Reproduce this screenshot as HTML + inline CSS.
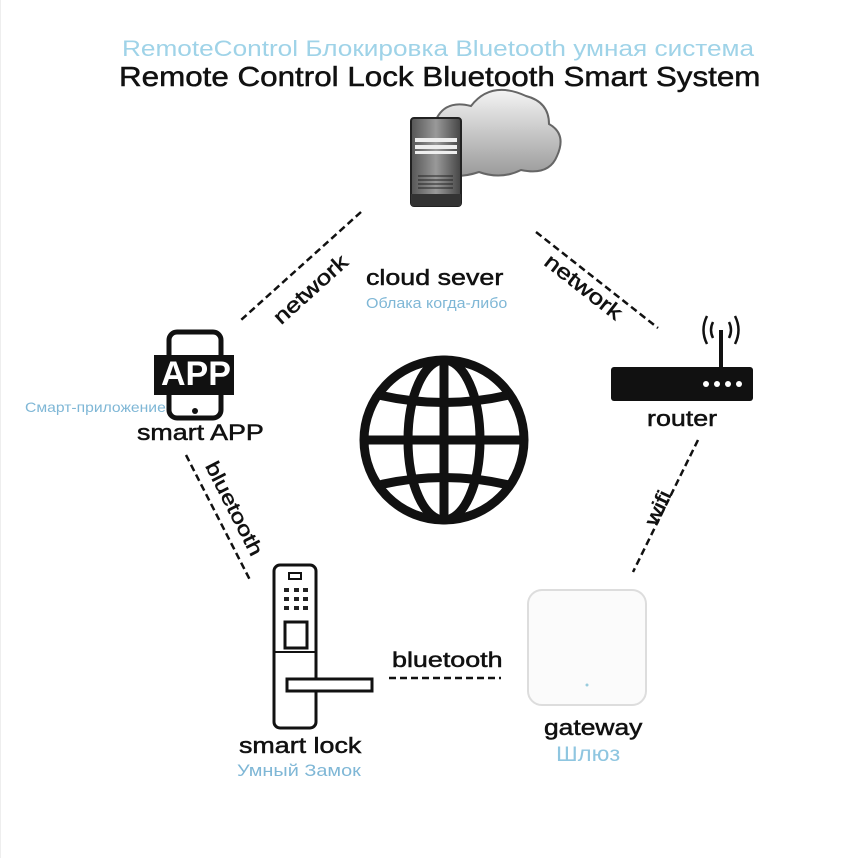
<!DOCTYPE html>
<html><head><meta charset="utf-8"><style>
body{margin:0;background:#fff;}
.t{position:absolute;font-family:"Liberation Sans",sans-serif;white-space:nowrap;transform-origin:0 0;}
.b{-webkit-text-stroke:0.5px #111;}
</style></head><body>
<div style="position:relative;width:852px;height:858px;overflow:hidden;border-left:1px solid #eee;box-sizing:border-box">
<div class="t" style="left:121px;top:36px;font-size:22px;color:#9fd3e8;transform:scaleX(1.19)">RemoteControl Блокировка Bluetooth умная система</div>
<div class="t b" style="left:118px;top:61px;font-size:28px;color:#111;transform:scaleX(1.12)">Remote Control Lock Bluetooth Smart System</div>
<svg width="852" height="858" style="position:absolute;left:0;top:0">
<defs><linearGradient id="cg" x1="0" y1="0" x2="0" y2="1"><stop offset="0" stop-color="#f4f4f4"/><stop offset="1" stop-color="#9a9a9a"/></linearGradient>
<linearGradient id="sg" x1="0" y1="0" x2="1" y2="0"><stop offset="0" stop-color="#555"/><stop offset=".5" stop-color="#999"/><stop offset="1" stop-color="#444"/></linearGradient></defs>
<g fill="url(#cg)" stroke="#666" stroke-width="2">
<path d="M430 172 Q405 150 432 128 Q440 98 470 106 Q490 80 525 96 Q548 102 548 124 Q566 134 556 156 Q548 176 520 170 Q500 180 478 172 Q455 180 430 172Z"/>
</g>
<rect x="410" y="118" width="50" height="88" rx="3" fill="url(#sg)" stroke="#222" stroke-width="2"/>
<rect x="414" y="138" width="42" height="4" fill="#eee"/><rect x="414" y="145" width="42" height="4" fill="#eee"/><rect x="414" y="151" width="42" height="3" fill="#eee"/>
<g stroke="#222"><line x1="417" y1="176" x2="452" y2="176"/><line x1="417" y1="180" x2="452" y2="180"/><line x1="417" y1="184" x2="452" y2="184"/><line x1="417" y1="188" x2="452" y2="188"/></g>
<rect x="410" y="194" width="50" height="12" fill="#333"/>
<g stroke="#111" stroke-width="2.5" stroke-dasharray="7,4" fill="none">
<line x1="360" y1="212" x2="240" y2="320"/>
<line x1="535" y1="232" x2="657" y2="328"/>
<line x1="185" y1="455" x2="250" y2="582"/>
<line x1="697" y1="440" x2="632" y2="572"/>
<line x1="388" y1="678" x2="500" y2="678"/>
</g>
<g stroke="#111" stroke-width="9" fill="none">
<circle cx="443" cy="440" r="80"/>
<ellipse cx="443" cy="440" rx="36" ry="80"/>
<line x1="443" y1="360" x2="443" y2="520"/>
<line x1="363" y1="440" x2="523" y2="440"/>
<path d="M378 395 Q443 410 508 395"/>
<path d="M378 485 Q443 470 508 485"/>
</g>
<rect x="168" y="332" width="52" height="86" rx="8" fill="none" stroke="#111" stroke-width="5"/>
<rect x="153" y="355" width="80" height="40" fill="#111"/>
<circle cx="194" cy="411" r="3" fill="#111"/>
<rect x="610" y="367" width="142" height="34" rx="3" fill="#111"/>
<g fill="#fff"><circle cx="705" cy="384" r="3"/><circle cx="716" cy="384" r="3"/><circle cx="727" cy="384" r="3"/><circle cx="738" cy="384" r="3"/></g>
<line x1="720" y1="330" x2="720" y2="367" stroke="#111" stroke-width="4"/>
<g stroke="#111" stroke-width="2.5" fill="none"><path d="M712 322 Q708 330 712 338"/><path d="M706 316 Q699 330 706 344"/><path d="M728 322 Q732 330 728 338"/><path d="M734 316 Q741 330 734 344"/></g>
<rect x="273" y="565" width="42" height="163" rx="6" fill="none" stroke="#111" stroke-width="3"/>
<line x1="273" y1="652" x2="315" y2="652" stroke="#111" stroke-width="2"/>
<rect x="288" y="573" width="12" height="6" fill="none" stroke="#111" stroke-width="2"/>
<g fill="#222"><rect x="283" y="588" width="5" height="4"/><rect x="293" y="588" width="5" height="4"/><rect x="302" y="588" width="5" height="4"/><rect x="283" y="597" width="5" height="4"/><rect x="293" y="597" width="5" height="4"/><rect x="302" y="597" width="5" height="4"/><rect x="283" y="606" width="5" height="4"/><rect x="293" y="606" width="5" height="4"/><rect x="302" y="606" width="5" height="4"/></g>
<rect x="284" y="622" width="22" height="26" fill="none" stroke="#111" stroke-width="3"/>
<rect x="286" y="679" width="85" height="12" fill="#fff" stroke="#111" stroke-width="3"/>
<rect x="527" y="590" width="118" height="115" rx="14" fill="#fbfbfb" stroke="#ddd" stroke-width="2"/>
<circle cx="586" cy="685" r="1.5" fill="#9cd"/>
</svg>
<div class="t" style="left:160px;top:355px;font-size:34px;font-weight:bold;color:#fff">APP</div>
<div class="t" style="left:24px;top:399px;font-size:14px;color:#7fb7d6;transform:scaleX(1.12)">Смарт-приложение</div>
<div class="t b" style="left:136px;top:420px;font-size:22px;color:#111;transform:scaleX(1.22)">smart APP</div>
<div class="t b" style="left:365px;top:265px;font-size:22px;color:#111;transform:scaleX(1.22)">cloud sever</div>
<div class="t" style="left:365px;top:295px;font-size:15px;color:#7fb7d6;transform:scaleX(1.07)">Облака когда-либо</div>
<div class="t b" style="left:268px;top:312px;font-size:21px;color:#111;transform:rotate(-42deg) scaleX(1.25)">network</div>
<div class="t b" style="left:553px;top:250px;font-size:21px;color:#111;transform:rotate(38deg) scaleX(1.25)">network</div>
<div class="t b" style="left:646px;top:406px;font-size:22px;color:#111;transform:scaleX(1.22)">router</div>
<div class="t b" style="left:219px;top:458px;font-size:20px;color:#111;transform:rotate(63deg) scaleX(1.25)">bluetooth</div>
<div class="t b" style="left:640px;top:520px;font-size:20px;color:#111;transform:rotate(-65deg) scaleX(1.25)">wifi</div>
<div class="t b" style="left:391px;top:649px;font-size:21px;color:#111;transform:scaleX(1.28)">bluetooth</div>
<div class="t b" style="left:238px;top:733px;font-size:22px;color:#111;transform:scaleX(1.22)">smart lock</div>
<div class="t" style="left:236px;top:761px;font-size:17px;color:#7fb7d6;transform:scaleX(1.17)">Умный Замок</div>
<div class="t b" style="left:543px;top:715px;font-size:22px;color:#111;transform:scaleX(1.2)">gateway</div>
<div class="t" style="left:555px;top:743px;font-size:21px;color:#8fc6e0;transform:scaleX(1.13)">Шлюз</div>
</div>
</body></html>
